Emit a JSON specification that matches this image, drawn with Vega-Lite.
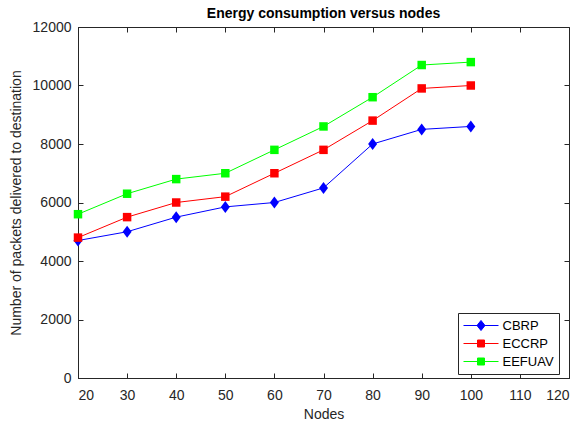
{
  "$schema": "https://vega.github.io/schema/vega-lite/v6.json",
  "width": 491,
  "height": 351,
  "autosize": {"type": "none"},
  "padding": {"left": 78, "top": 27, "right": 13, "bottom": 43},
  "background": "white",
  "title": {"text": "Energy consumption versus nodes", "font": "Liberation Sans", "fontSize": 14, "fontWeight": "bold", "color": "#000", "offset": -1},
  "config": {
    "view": {"stroke": "#262626", "strokeWidth": 1},
    "axis": {"grid": false, "labelFont": "Liberation Sans", "labelFontSize": 14, "labelColor": "#262626", "titleFont": "Liberation Sans", "titleFontSize": 14, "titleFontWeight": "normal", "titleColor": "#262626", "domainColor": "#262626", "tickColor": "#262626", "tickSize": -5, "format": "d"}
  },
  "data": {"values": [
    {"nodes": 20, "series": "CBRP", "value": 4700},
    {"nodes": 30, "series": "CBRP", "value": 5000},
    {"nodes": 40, "series": "CBRP", "value": 5500},
    {"nodes": 50, "series": "CBRP", "value": 5850},
    {"nodes": 60, "series": "CBRP", "value": 6000},
    {"nodes": 70, "series": "CBRP", "value": 6500},
    {"nodes": 80, "series": "CBRP", "value": 8000},
    {"nodes": 90, "series": "CBRP", "value": 8500},
    {"nodes": 100, "series": "CBRP", "value": 8600},
    {"nodes": 20, "series": "ECCRP", "value": 4800},
    {"nodes": 30, "series": "ECCRP", "value": 5500},
    {"nodes": 40, "series": "ECCRP", "value": 6000},
    {"nodes": 50, "series": "ECCRP", "value": 6200},
    {"nodes": 60, "series": "ECCRP", "value": 7000},
    {"nodes": 70, "series": "ECCRP", "value": 7800},
    {"nodes": 80, "series": "ECCRP", "value": 8800},
    {"nodes": 90, "series": "ECCRP", "value": 9900},
    {"nodes": 100, "series": "ECCRP", "value": 10000},
    {"nodes": 20, "series": "EEFUAV", "value": 5600},
    {"nodes": 30, "series": "EEFUAV", "value": 6300},
    {"nodes": 40, "series": "EEFUAV", "value": 6800},
    {"nodes": 50, "series": "EEFUAV", "value": 7000},
    {"nodes": 60, "series": "EEFUAV", "value": 7800},
    {"nodes": 70, "series": "EEFUAV", "value": 8600},
    {"nodes": 80, "series": "EEFUAV", "value": 9600},
    {"nodes": 90, "series": "EEFUAV", "value": 10700},
    {"nodes": 100, "series": "EEFUAV", "value": 10800}
  ]},
  "layer": [
    {
      "mark": {"type": "line", "strokeWidth": 1},
      "encoding": {
        "x": {"field": "nodes", "type": "quantitative", "scale": {"domain": [20, 120], "nice": false, "zero": false},
              "axis": {"orient": "bottom", "title": "Nodes", "values": [20,30,40,50,60,70,80,90,100,110,120], "titlePadding": 5, "labelPadding": 15}},
        "y": {"field": "value", "type": "quantitative", "scale": {"domain": [0, 12000], "nice": false},
              "axis": {"orient": "left", "title": "Number of packets delivered to destination", "values": [0,2000,4000,6000,8000,10000,12000], "titlePadding": 9, "labelPadding": 12}},
        "color": {"field": "series", "type": "nominal",
                  "scale": {"domain": ["CBRP", "ECCRP", "EEFUAV"], "range": ["#0000ff", "#ff0000", "#00ff00"]},
                  "legend": {"orient": "none", "legendX": 380, "legendY": 286, "title": null, "strokeColor": "#262626", "fillColor": "white",
                             "padding": 5, "labelFont": "Liberation Sans", "labelFontSize": 13, "labelColor": "#000", "labelOffset": 14,
                             "symbolSize": 196, "symbolOffset": 10.5, "rowPadding": 3, "symbolStrokeWidth": 1,
                             "encode": {"symbols": {"update": {
                               "shape": {"signal": "datum.value === 'CBRP' ? 'M-2.5,0H2.5M0,-0.72L0.57,0L0,0.72L-0.57,0Z' : 'M-2.5,0H2.5M-0.5,-0.5H0.5V0.5H-0.5Z'"},
                               "fill": {"signal": "datum.value === 'CBRP' ? '#0000ff' : datum.value === 'ECCRP' ? '#ff0000' : '#00ff00'"},
                               "stroke": {"signal": "datum.value === 'CBRP' ? '#0000ff' : datum.value === 'ECCRP' ? '#ff0000' : '#00ff00'"},
                               "opacity": {"value": 1},
                               "fillOpacity": {"value": 1}
                             }}}}}
      }
    },
    {
      "transform": [{"filter": "datum.series === 'CBRP'"}],
      "mark": {"type": "point", "filled": true, "opacity": 1, "shape": "M0,-1.2L0.9,0L0,1.2L-0.9,0Z", "size": 100},
      "encoding": {
        "x": {"field": "nodes", "type": "quantitative", "axis": {"orient": "top", "title": null, "labels": false, "values": [20,30,40,50,60,70,80,90,100,110,120], "domain": false}},
        "y": {"field": "value", "type": "quantitative", "axis": {"orient": "right", "title": null, "labels": false, "values": [0,2000,4000,6000,8000,10000,12000], "domain": false}},
        "color": {"field": "series", "type": "nominal"}
      }
    },
    {
      "transform": [{"filter": "datum.series !== 'CBRP'"}],
      "mark": {"type": "point", "filled": true, "opacity": 1, "shape": "square", "size": 72},
      "encoding": {
        "x": {"field": "nodes", "type": "quantitative", "axis": null},
        "y": {"field": "value", "type": "quantitative", "axis": null},
        "color": {"field": "series", "type": "nominal"}
      }
    }
  ],
  "resolve": {"axis": {"x": "independent", "y": "independent"}}
}
